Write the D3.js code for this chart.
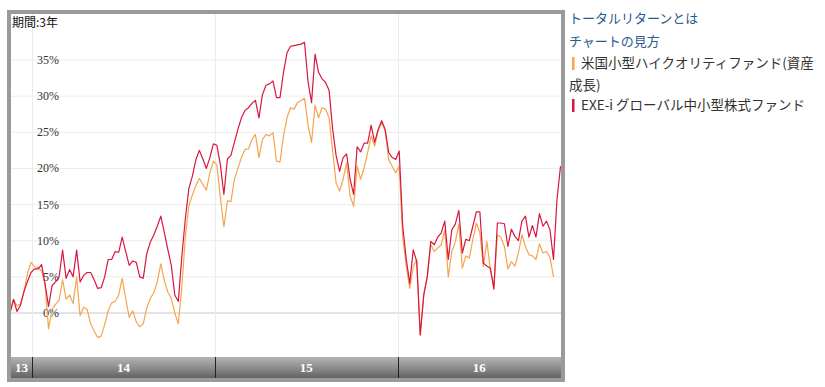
<!DOCTYPE html>
<html>
<head>
<meta charset="utf-8">
<script src="https://cdn.jsdelivr.net/npm/d3@7"></script>
<style>
  body { margin: 0; background: #fff; }
  svg { display: block; }
</style>
</head>
<body>
<svg width="825" height="387"></svg>
<script>
// 週次データ(2013/11/18 から)
const startDate = new Date(2013, 10, 18);
const yearLabels = ['13', '14', '15', '16'];
const yearStarts = [new Date(2014, 0, 1), new Date(2015, 0, 1), new Date(2016, 0, 1)];
const yTicks = [0, 5, 10, 15, 20, 25, 30, 35];

// 米国小型ハイクオリティファンド(資産成長)
const fundA = [
  0, 1.8, 1.0, 1.25, 3.0, 5.5, 7.0, 6.4, 6.3, 5.8,
  4.0, -2.2, 0.5, 1.2, 1.8, 4.6, 1.9, 2.5, 1.3, 5.0,
  -0.4, 0.8, 0.5, -1.5, -2.5, -3.4, -3.2, -1.6, 0.3, 1.4,
  1.6, 2.5, 4.8, 2.0, -0.6, 0.3, -1.2, -1.9, -1.5, 0.7,
  2.0, 2.8, 4.3, 6.8, 4.5, 2.9, 2.0, 0.0, -1.5, 3.5,
  10.5, 14.8, 16.3, 17.6, 18.6, 17.8, 17.0, 19.4, 21.0, 20.5,
  16.0, 11.9, 15.5, 15.4, 18.5, 20.0, 21.5, 22.6, 22.7, 24.0,
  24.7, 21.5, 24.0, 24.7, 24.5, 24.95, 21.0, 20.9, 24.5, 27.0,
  28.4, 28.2, 29.1, 29.4, 29.7, 26.0, 23.6, 28.75, 27.0, 28.4,
  28.2, 27.0, 22.5, 18.0, 16.85, 18.5, 20.8, 16.2, 14.75, 20.3,
  18.5, 20.1, 22.2, 24.5, 23.1, 25.2, 26.35, 25.2, 21.25, 20.3,
  19.4, 20.3, 10.5, 6.5, 3.4, 6.4, 7.4, -3.0, 2.5, 5.0,
  9.45, 8.5, 9.0, 9.45, 11.5, 5.0, 8.5, 9.8, 12.3, 6.2,
  7.9, 7.6, 10.2, 12.45, 11.1, 6.4, 9.9, 6.0, 3.65, 10.8,
  10.5, 9.2, 6.1, 7.1, 6.5, 8.3, 10.8, 9.2, 8.05, 7.9,
  7.4, 9.55, 8.3, 8.5, 7.7, 5.0
];

// EXE-i グローバル中小型株式ファンド
const fundB = [
  0, 1.9, 0.2, 1.1, 3.0, 4.4, 5.6, 6.1, 6.1, 6.7,
  4.0, 0.9, 3.8, 4.3, 5.0, 8.7, 4.8, 6.0, 5.0, 8.7,
  4.3, 5.2, 5.6, 5.6, 4.6, 3.4, 3.5, 5.0, 7.4, 7.4,
  8.5, 8.4, 10.5, 8.5, 6.6, 7.2, 7.0, 5.0, 4.8, 8.2,
  9.8, 10.8, 12.0, 13.4, 11.2, 8.8, 6.6, 2.5, 1.6, 7.8,
  13.0, 17.2, 18.9, 21.2, 22.5, 21.3, 20.0, 21.5, 23.4, 23.2,
  20.5, 16.4, 21.3, 21.8, 23.6, 25.4, 27.0, 28.0, 28.4, 29.0,
  29.4, 27.0, 30.2, 31.5, 31.7, 32.1, 29.8, 29.8, 33.3, 36.0,
  36.9, 37.0, 37.1, 37.2, 37.45, 32.0, 29.1, 35.8, 33.3, 32.4,
  31.9, 30.8, 25.5, 21.8, 19.6, 21.5, 22.0, 18.5, 16.4, 23.0,
  22.3, 23.5, 23.5, 26.0, 23.6, 25.4, 26.6, 25.4, 22.2, 21.5,
  21.25, 22.4, 12.0, 7.5, 4.1, 8.75, 7.1, -3.05, 2.5, 5.0,
  9.9, 9.45, 10.5, 11.1, 12.7, 7.4, 11.5, 12.3, 14.2, 8.3,
  10.2, 10.0, 12.0, 14.0, 14.0, 6.9, 6.5, 6.2, 3.3, 12.45,
  12.45, 12.35, 9.2, 11.6, 10.6, 10.0, 12.7, 13.4, 10.5, 12.1,
  10.5, 13.75, 12.0, 12.7, 11.5, 7.4, 15.7, 20.3
];

const seriesNames = ['米国小型ハイクオリティファンド(資産', 'EXE-i グローバル中小型株式ファンド'];
const seriesColors = ['#f3a64c', '#d9163f'];

const svg = d3.select('svg');

const x = d3.scaleTime()
  .domain([startDate, new Date(2016, 10, 22)])
  .range([10, 561]);
const y = d3.scaleLinear()
  .domain([0, 35])
  .range([313, 60]);

const dateOf = i => d3.timeDay.offset(startDate, 7 * i);

// グリッド
svg.append('g')
  .selectAll('line')
  .data(yTicks)
  .enter()
  .append('line')
  .attr('x1', 11).attr('x2', 561)
  .attr('y1', d => y(d)).attr('y2', d => y(d))
  .attr('stroke', d => d === 0 ? '#c8c8c8' : '#ececec')
  .attr('stroke-width', 1);

svg.append('g')
  .selectAll('line')
  .data(yearStarts)
  .enter()
  .append('line')
  .attr('x1', d => Math.round(x(d)) + 0.5).attr('x2', d => Math.round(x(d)) + 0.5)
  .attr('y1', 14).attr('y2', 357)
  .attr('stroke', '#ececec');

// 目盛ラベル
svg.append('g')
  .selectAll('text')
  .data(yTicks)
  .enter()
  .append('text')
  .attr('x', 59)
  .attr('y', d => y(d) + 4)
  .attr('text-anchor', 'end')
  .attr('font-family', '"Liberation Serif", serif')
  .attr('font-size', 12)
  .attr('fill', '#333')
  .text(d => d + '%');

// 折れ線
svg.append('clipPath').attr('id', 'plot-clip')
  .append('rect').attr('x', 11).attr('y', 14).attr('width', 550).attr('height', 343);

const line = d3.line()
  .x((d, i) => x(dateOf(i)))
  .y(d => y(d));

[fundA, fundB].forEach((s, k) => {
  svg.append('path')
    .datum(s)
    .attr('clip-path', 'url(#plot-clip)')
    .attr('fill', 'none')
    .attr('stroke', seriesColors[k])
    .attr('stroke-width', 1.2)
    .attr('stroke-linejoin', 'round')
    .attr('d', line);
});

// 下部の年バー
const grad = svg.append('defs').append('linearGradient')
  .attr('id', 'bar-grad').attr('x1', 0).attr('y1', 0).attr('x2', 0).attr('y2', 1);
grad.append('stop').attr('offset', '0%').attr('stop-color', '#b4b4b4');
grad.append('stop').attr('offset', '50%').attr('stop-color', '#8e8e8e');
grad.append('stop').attr('offset', '100%').attr('stop-color', '#616161');

svg.append('rect')
  .attr('x', 11).attr('y', 357).attr('width', 550).attr('height', 21)
  .attr('fill', 'url(#bar-grad)');

svg.append('g')
  .selectAll('line')
  .data(yearStarts)
  .enter()
  .append('line')
  .attr('x1', d => Math.round(x(d)) + 0.5).attr('x2', d => Math.round(x(d)) + 0.5)
  .attr('y1', 357).attr('y2', 378)
  .attr('stroke', '#222');

const bounds = [x.range()[0] + 1, ...yearStarts.map(x), x.range()[1]];
svg.append('g')
  .selectAll('text')
  .data(yearLabels)
  .enter()
  .append('text')
  .attr('x', (d, i) => (bounds[i] + bounds[i + 1]) / 2)
  .attr('y', 372)
  .attr('text-anchor', 'middle')
  .attr('font-family', '"Liberation Serif", serif')
  .attr('font-weight', 'bold')
  .attr('font-size', 13)
  .attr('fill', '#fff')
  .text(d => d);

// 外枠
svg.append('rect')
  .attr('x', 9).attr('y', 12).attr('width', 554).attr('height', 368)
  .attr('fill', 'none')
  .attr('stroke', '#9a9a9a')
  .attr('stroke-width', 4);

svg.append('text')
  .attr('x', 12).attr('y', 27)
  .attr('font-family', '"Noto Sans CJK JP", sans-serif')
  .attr('font-size', 12)
  .attr('fill', '#111')
  .text('期間:3年');

// 凡例
const jp = '"Noto Sans CJK JP", sans-serif';
const legend = svg.append('g').attr('font-family', jp);
legend.append('text').attr('x', 569).attr('y', 23).attr('font-size', 13).attr('fill', '#2b5a8e').text('トータルリターンとは');
legend.append('text').attr('x', 569).attr('y', 46).attr('font-size', 13).attr('fill', '#2b5a8e').text('チャートの見方');

const legendRows = [
  { y: 68, k: 0 },
  { y: 110, k: 1 }
];
legendRows.forEach(r => {
  legend.append('rect')
    .attr('x', 572).attr('y', r.y - 11).attr('width', 2.5).attr('height', 13)
    .attr('fill', seriesColors[r.k]);
  legend.append('text').attr('x', 581).attr('y', r.y).attr('font-size', 13.5)
    .attr('fill', '#333').text(seriesNames[r.k]);
});
legend.append('text').attr('x', 569).attr('y', 90).attr('font-size', 13.5).attr('fill', '#333').text('成長)');
</script>
</body>
</html>
